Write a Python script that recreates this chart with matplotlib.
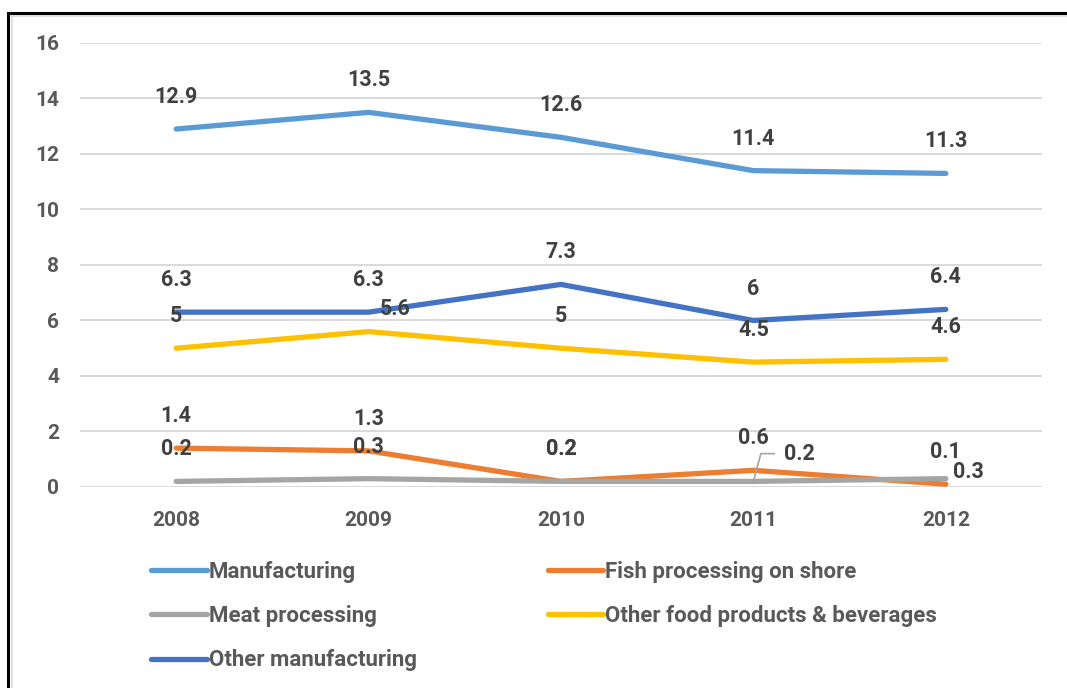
import matplotlib
matplotlib.use("Agg")
import matplotlib.pyplot as plt
from matplotlib.lines import Line2D

years = ["2008", "2009", "2010", "2011", "2012"]
manufacturing = [12.9, 13.5, 12.6, 11.4, 11.3]
fish_processing = [1.4, 1.3, 0.2, 0.6, 0.1]
meat_processing = [0.2, 0.3, 0.2, 0.2, 0.3]
other_food = [5, 5.6, 5, 4.5, 4.6]
other_manufacturing = [6.3, 6.3, 7.3, 6, 6.4]

plt.rcParams['font.family'] = ['Roboto', 'DejaVu Sans']

fig = plt.figure(figsize=(10.67, 6.88), dpi=100)
ax = fig.add_axes([0.075, 0.2922, 0.9016, 0.6453])

x = list(range(len(years)))

series = [
    ("Manufacturing", manufacturing, "#5B9BD5"),
    ("Fish processing on shore", fish_processing, "#ED7D31"),
    ("Meat processing", meat_processing, "#A5A5A5"),
    ("Other food products & beverages", other_food, "#FFC000"),
    ("Other manufacturing", other_manufacturing, "#4472C4"),
]

lines = {}
for name, vals, col in series:
    ln, = ax.plot(x, vals, color=col, lw=3.8, solid_capstyle="round",
                  solid_joinstyle="round", label=name, zorder=3)
    lines[name] = ln

# value labels, mostly centred above the point
lab_kw = dict(textcoords="offset points", fontsize=15.5, fontweight="bold",
              color="#404040", va="center", zorder=5)
special = {
    ("Other food products & beverages", 1): dict(xytext=(19, 16), ha="center"),
    ("Meat processing", 4): dict(xytext=(5, 5), ha="left"),
}
for name, vals, col in series:
    for i, v in enumerate(vals):
        if name == "Meat processing" and i == 3:
            ax.annotate(f"{v:g}", xy=(i, v), xytext=(22, 20), ha="left",
                        arrowprops=dict(arrowstyle="-", color="#A5A5A5", lw=1.2,
                                        shrinkA=5, shrinkB=1,
                                        connectionstyle="angle,angleA=0,angleB=75,rad=0"),
                        **lab_kw)
            continue
        opts = special.get((name, i), dict(xytext=(0, 23), ha="center"))
        ax.annotate(f"{v:g}", xy=(i, v), **opts, **lab_kw)

ax.set_xlim(-0.5, 4.5)
ax.set_ylim(0, 16)
ax.set_yticks(range(0, 17, 2))
ax.set_xticks(x)
ax.set_xticklabels(years)
ax.grid(axis="y", color="#D9D9D9", lw=1.4)
ax.set_axisbelow(True)
for s in ax.spines.values():
    s.set_visible(False)
ax.tick_params(axis="both", length=0, labelsize=15, labelcolor="#595959")
ax.tick_params(axis="y", pad=15)
ax.tick_params(axis="x", pad=17)
for t in ax.get_xticklabels() + ax.get_yticklabels():
    t.set_fontweight("bold")

order = ["Manufacturing", "Meat processing", "Other manufacturing",
         "Fish processing on shore", "Other food products & beverages"]
leg = fig.legend([lines[n] for n in order], order, ncol=2,
                 loc="upper left", bbox_to_anchor=(0.123, 0.2137),
                 frameon=False, handlelength=2.5, handletextpad=0.08,
                 columnspacing=5.9, labelspacing=1.0,
                 prop=dict(size=16, weight="bold"))
for t in leg.get_texts():
    t.set_color("#595959")

# chart frame: left and top edges
fig.add_artist(Line2D([0.0075, 0.0075], [0, 0.981], color="black", lw=2.2))
fig.add_artist(Line2D([0.0075, 1.0], [0.981, 0.981], color="black", lw=2.2))
fig.add_artist(Line2D([0.0115, 0.0115], [0, 0.977], color="#D9D9D9", lw=1.2))
fig.add_artist(Line2D([0.0115, 1.0], [0.977, 0.977], color="#D9D9D9", lw=1.2))

fig.savefig("out.png", dpi=100, facecolor="white")
